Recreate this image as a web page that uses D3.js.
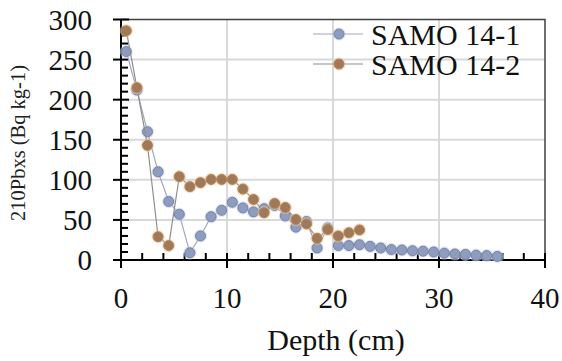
<!DOCTYPE html>
<html>
<head>
<meta charset="utf-8">
<script src="https://cdn.jsdelivr.net/npm/d3@7"></script>
<style>
  html, body { margin: 0; padding: 0; background: #fff; }
  svg { display: block; }
  svg text { font-family: 'Liberation Serif', 'DejaVu Serif', 'Times New Roman', Times, serif; }
</style>
</head>
<body>
<svg id="chart" width="562" height="361"></svg>
<script>
// Depth profiles of excess 210Pb for two cores
const depth1 = [0.5, 1.5, 2.5, 3.5, 4.5, 5.5, 6.5, 7.5, 8.5, 9.5, 10.5, 11.5, 12.5, 13.5, 14.5, 15.5,
  16.5, 17.5, 18.5, 19.5, 20.5, 21.5, 22.5, 23.5, 24.5, 25.5, 26.5, 27.5, 28.5, 29.5, 30.5, 31.5,
  32.5, 33.5, 34.5, 35.5];
const samo1 = [260, 212, 160, 110, 73, 57, 9, 30, 54, 62, 72, 65, 60, 64, 68, 55,
  41, 48, 15, 40, 18, 18, 19, 17, 15, 13, 12.5, 11.5, 11, 10, 8.5, 7.5,
  7, 6, 5.5, 4.5];

const depth2 = [0.5, 1.5, 2.5, 3.5, 4.5, 5.5, 6.5, 7.5, 8.5, 9.5, 10.5, 11.5, 12.5, 13.5, 14.5, 15.5,
  16.5, 17.5, 18.5, 19.5, 20.5, 21.5, 22.5];
const samo2 = [286, 215, 143, 29, 18, 104, 91.5, 96.5, 100.5, 100.5, 100.5, 88.5, 75.5, 59, 70.5, 65.5,
  50.5, 45, 27, 38, 30, 34, 37.5];

const seriesNames = ["SAMO 14-1", "SAMO 14-2"];
const xTicks = [0, 10, 20, 30, 40];
const yTicks = [0, 50, 100, 150, 200, 250, 300];
const xLabel = "Depth (cm)";
const yLabel = "210Pbxs (Bq kg-1)";

const FONT = "'Liberation Serif', 'DejaVu Serif', 'Times New Roman', Times, serif";

const svg = d3.select("#chart").attr("font-family", FONT);
const m = { left: 121, right: 17, top: 19.5, bottom: 101 };
const W = 562, H = 361;
const x = d3.scaleLinear().domain([0, 40]).range([m.left, W - m.right]);
const y = d3.scaleLinear().domain([0, 300]).range([H - m.bottom, m.top]);

// gridlines
const grid = svg.append("g");
grid.selectAll("line.gx").data(xTicks.slice(1, -1)).join("line")
  .attr("x1", d => x(d)).attr("x2", d => x(d))
  .attr("y1", y(0)).attr("y2", y(300))
  .attr("stroke", "#d9d9d9").attr("stroke-width", 2);
grid.selectAll("line.gy").data(yTicks.slice(1, -1)).join("line")
  .attr("x1", x(0)).attr("x2", x(40))
  .attr("y1", d => y(d)).attr("y2", d => y(d))
  .attr("stroke", "#d9d9d9").attr("stroke-width", 2);

// top and right frame
svg.append("path")
  .attr("d", `M${x(0)},${y(300)}H${x(40)}V${y(0)}`)
  .attr("fill", "none").attr("stroke", "#404040").attr("stroke-width", 1.5);

// axes with crossing major ticks and inward minor ticks
const xMinor = d3.range(0, 41, 2).filter(v => v % 10 !== 0);
const yMinor = d3.range(0, 301, 10).filter(v => v % 50 !== 0);
const axes = svg.append("g").attr("stroke", "#000");
axes.append("line").attr("x1", x(0)).attr("x2", x(40)).attr("y1", y(0)).attr("y2", y(0)).attr("stroke-width", 2);
axes.append("line").attr("x1", x(0)).attr("x2", x(0)).attr("y1", y(0)).attr("y2", y(300)).attr("stroke-width", 2);
axes.selectAll("line.xM").data(xTicks).join("line")
  .attr("x1", d => x(d)).attr("x2", d => x(d)).attr("y1", y(0) - 7).attr("y2", y(0) + 8).attr("stroke-width", 2);
axes.selectAll("line.xm").data(xMinor).join("line")
  .attr("x1", d => x(d)).attr("x2", d => x(d)).attr("y1", y(0) - 7).attr("y2", y(0)).attr("stroke-width", 2);
axes.selectAll("line.yM").data(yTicks).join("line")
  .attr("x1", x(0) - 8).attr("x2", x(0) + 8).attr("y1", d => y(d)).attr("y2", d => y(d)).attr("stroke-width", 2);
axes.selectAll("line.ym").data(yMinor).join("line")
  .attr("x1", x(0)).attr("x2", x(0) + 7).attr("y1", d => y(d)).attr("y2", d => y(d)).attr("stroke-width", 2);

// tick labels
svg.append("g").selectAll("text").data(xTicks).join("text")
  .attr("x", d => x(d)).attr("y", 308)
  .attr("text-anchor", "middle").attr("font-size", 29).attr("fill", "#111")
  .attr("font-family", FONT)
  .text(d => d);
svg.append("g").selectAll("text").data(yTicks).join("text")
  .attr("x", 92).attr("y", d => y(d) + 10)
  .attr("text-anchor", "end").attr("font-size", 29).attr("fill", "#111")
  .attr("font-family", FONT)
  .text(d => d);

// axis titles
svg.append("text").attr("x", x(20) + 3).attr("y", 350)
  .attr("text-anchor", "middle").attr("font-size", 30).attr("fill", "#111")
  .attr("font-family", FONT).text(xLabel);
svg.append("text").attr("transform", `translate(25,143) rotate(-90)`)
  .attr("text-anchor", "middle").attr("font-size", 20.5).attr("fill", "#222")
  .attr("font-family", FONT).text(yLabel);

// series styles
const styles = [
  { line: "#a0a8ba", fill: "#8e9dbd", stroke: "#7384ab", halo: "#c9d2e6" },
  { line: "#8f8f8f", fill: "#a07a58", stroke: "#b08558", halo: "#f6c79f" }
];
const series = [
  depth1.map((d, i) => [d, samo1[i]]),
  depth2.map((d, i) => [d, samo2[i]])
];
const line = d3.line().x(d => x(d[0])).y(d => y(d[1]));

series.forEach((pts, k) => {
  const s = styles[k];
  const g = svg.append("g");
  g.append("path").attr("d", line(pts)).attr("fill", "none")
    .attr("stroke", s.line).attr("stroke-width", 1.2);
  g.selectAll("circle.h").data(pts).join("circle")
    .attr("cx", d => x(d[0])).attr("cy", d => y(d[1])).attr("r", 6.6)
    .attr("fill", s.halo).attr("opacity", 0.55);
  g.selectAll("circle.m").data(pts).join("circle")
    .attr("cx", d => x(d[0])).attr("cy", d => y(d[1])).attr("r", 5)
    .attr("fill", s.fill).attr("stroke", s.stroke).attr("stroke-width", 1);
});

// legend
const lg = svg.append("g");
seriesNames.forEach((name, k) => {
  const s = styles[k];
  const cy = 34 + k * 30;
  lg.append("line").attr("x1", 313).attr("x2", 363).attr("y1", cy).attr("y2", cy)
    .attr("stroke", s.line).attr("stroke-width", 1.2);
  lg.append("circle").attr("cx", 339).attr("cy", cy).attr("r", 6.6).attr("fill", s.halo).attr("opacity", 0.55);
  lg.append("circle").attr("cx", 339).attr("cy", cy).attr("r", 5)
    .attr("fill", s.fill).attr("stroke", s.stroke).attr("stroke-width", 1);
  lg.append("text").attr("x", 371).attr("y", cy + 11).attr("font-size", 30).attr("fill", "#111")
    .attr("font-family", FONT).text(name);
});
</script>
</body>
</html>
